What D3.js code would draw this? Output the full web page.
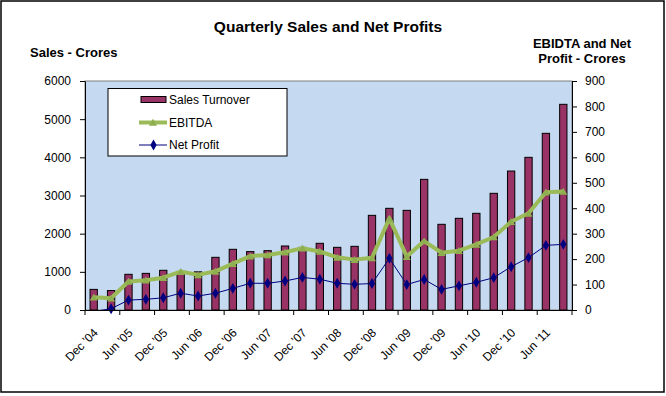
<!DOCTYPE html>
<html>
<head>
<meta charset="utf-8">
<script src="https://cdn.jsdelivr.net/npm/d3@7"></script>
<style>
  body { margin: 0; background: #fff; }
  text { font-family: "Liberation Sans", Arial, sans-serif; }
</style>
</head>
<body>
<div id="chart"></div>
<script>
// quarterly data
var quarters = ["Dec '04", "Mar '05", "Jun '05", "Sep '05", "Dec '05", "Mar '06", "Jun '06", "Sep '06",
  "Dec '06", "Mar '07", "Jun '07", "Sep '07", "Dec '07", "Mar '08", "Jun '08", "Sep '08",
  "Dec '08", "Mar '09", "Jun '09", "Sep '09", "Dec '09", "Mar '10", "Jun '10", "Sep '10",
  "Dec '10", "Mar '11", "Jun '11", "Sep '11"];

var salesTurnover = [540, 510, 935, 960, 1040, 980, 1000, 1380, 1590, 1530, 1555, 1677, 1640, 1747,
  1642, 1668, 2480, 2664, 2611, 3423, 2245, 2402, 2533, 3057, 3641, 4000, 4629, 5389];

var ebitda = [50, 46, 112, 117, 127, 151, 138, 152, 182, 212, 216, 227, 243, 230,
  207, 198, 205, 360, 210, 271, 225, 233, 258, 287, 347, 380, 463, 466];

var netProfit = [-6, 5, 39, 42, 48, 66, 55, 66, 85, 105, 105, 114, 128, 121,
  105, 101, 104, 203, 100, 120, 81, 95, 109, 127, 170, 206, 254, 258];

var leftTicks = [0, 1000, 2000, 3000, 4000, 5000, 6000];
var rightTicks = [0, 100, 200, 300, 400, 500, 600, 700, 800, 900];

var svgWidth = 666;
var svgHeight = 396;

var plot = { left: 85, right: 572, top: 81, bottom: 310 };

var svg = d3.select("#chart")
  .append("svg")
  .attr("width", svgWidth)
  .attr("height", svgHeight);

// outer frame
svg.append("rect")
  .attr("x", 1)
  .attr("y", 1)
  .attr("width", 663)
  .attr("height", 391)
  .attr("fill", "#fff")
  .attr("stroke", "#000")
  .attr("stroke-width", 1.5);

// scales
var x = d3.scaleBand()
  .domain(quarters)
  .range([plot.left, plot.right])
  .paddingInner(0.58)
  .paddingOuter(0.29);

var step = x.step();
var yLeft = d3.scaleLinear().domain([0, 6000]).range([plot.bottom, plot.top]);
var yRight = d3.scaleLinear().domain([0, 900]).range([plot.bottom, plot.top]);

var cx = i => x(quarters[i]) + x.bandwidth() / 2;

// plot area
svg.append("rect")
  .attr("x", plot.left)
  .attr("y", plot.top)
  .attr("width", plot.right - plot.left)
  .attr("height", plot.bottom - plot.top)
  .attr("fill", "#C5D9F1")
  .attr("stroke", "#808080")
  .attr("stroke-width", 1);

svg.append("clipPath")
  .attr("id", "plotClip")
  .append("rect")
  .attr("x", plot.left)
  .attr("y", plot.top)
  .attr("width", plot.right - plot.left)
  .attr("height", plot.bottom - plot.top);

// bars
svg.append("g")
  .selectAll("rect")
  .data(salesTurnover)
  .enter()
  .append("rect")
  .attr("x", (d, i) => x(quarters[i]))
  .attr("y", d => yLeft(d))
  .attr("width", x.bandwidth())
  .attr("height", d => yLeft(0) - yLeft(d))
  .attr("fill", "#993366")
  .attr("stroke", "#000")
  .attr("stroke-width", 1);

// EBITDA line
var rightLine = d3.line()
  .x((d, i) => cx(i))
  .y(d => yRight(d));

svg.append("path")
  .datum(ebitda)
  .attr("d", rightLine)
  .attr("fill", "none")
  .attr("stroke", "#9BBB59")
  .attr("stroke-width", 4)
  .attr("stroke-linejoin", "round");

svg.append("g")
  .selectAll("path")
  .data(ebitda)
  .enter()
  .append("path")
  .attr("d", d3.symbol().type(d3.symbolTriangle).size(28))
  .attr("transform", (d, i) => `translate(${cx(i)}, ${yRight(d) + 1})`)
  .attr("fill", "#8FAE4F");

// Net profit line
svg.append("path")
  .datum(netProfit)
  .attr("d", rightLine)
  .attr("clip-path", "url(#plotClip)")
  .attr("fill", "none")
  .attr("stroke", "#000080")
  .attr("stroke-width", 1);

// markers only for points inside the axis range
svg.append("g")
  .selectAll("path")
  .data(netProfit.map((v, i) => ({ v: v, i: i })).filter(d => d.v >= 0))
  .enter()
  .append("path")
  .attr("d", d3.symbol().type(d3.symbolDiamond).size(34))
  .attr("transform", d => `translate(${cx(d.i)}, ${yRight(d.v)})`)
  .attr("fill", "#000080");

// axes
var leftAxis = svg.append("g")
  .attr("transform", `translate(${plot.left}, 0)`)
  .call(d3.axisLeft(yLeft).tickValues(leftTicks).tickSize(5).tickSizeOuter(0).tickPadding(9).tickFormat(d3.format("d")));

var rightAxis = svg.append("g")
  .attr("transform", `translate(${plot.right}, 0)`)
  .call(d3.axisRight(yRight).tickValues(rightTicks).tickSize(5).tickSizeOuter(0).tickPadding(8).tickFormat(d3.format("d")));

var bottomAxis = svg.append("g")
  .attr("transform", `translate(0, ${plot.bottom})`)
  .call(d3.axisBottom(x).tickValues(quarters.filter((q, i) => i % 2 === 0)).tickSize(0).tickSizeOuter(0));

[leftAxis, rightAxis, bottomAxis].forEach(function(ax) {
  ax.selectAll("path.domain").attr("stroke", "#000");
  ax.selectAll("line").attr("stroke", "#000");
  ax.selectAll("text")
    .attr("fill", "#000")
    .style("font-size", "12px")
    .style("font-family", "'Liberation Sans', Arial, sans-serif");
});

// category ticks every two quarters (on band boundaries)
bottomAxis.selectAll(".tick line").remove();
bottomAxis.selectAll(".tick")
  .append("line")
  .attr("x1", -step / 2)
  .attr("x2", -step / 2)
  .attr("y1", 0)
  .attr("y2", 5)
  .attr("stroke", "#000");

bottomAxis.append("line")
  .attr("x1", plot.right)
  .attr("x2", plot.right)
  .attr("y1", 0)
  .attr("y2", 5)
  .attr("stroke", "#000");

bottomAxis.selectAll(".tick text")
  .attr("y", 0)
  .attr("dy", "0.35em")
  .attr("text-anchor", "end")
  .attr("transform", "translate(2, 20.5) rotate(-45)");

// titles
svg.append("text")
  .attr("x", 328)
  .attr("y", 32)
  .attr("text-anchor", "middle")
  .attr("font-size", "15.5px")
  .attr("font-weight", "bold")
  .text("Quarterly Sales and Net Profits");

svg.append("text")
  .attr("x", 30)
  .attr("y", 57)
  .attr("font-size", "13px")
  .attr("font-weight", "bold")
  .text("Sales - Crores");

svg.append("text")
  .attr("x", 582)
  .attr("y", 48)
  .attr("text-anchor", "middle")
  .attr("font-size", "13px")
  .attr("font-weight", "bold")
  .text("EBIDTA and Net");

svg.append("text")
  .attr("x", 582)
  .attr("y", 63)
  .attr("text-anchor", "middle")
  .attr("font-size", "13px")
  .attr("font-weight", "bold")
  .text("Profit - Crores");

// legend
var legend = svg.append("g");

legend.append("rect")
  .attr("x", 108)
  .attr("y", 88.5)
  .attr("width", 179)
  .attr("height", 67.5)
  .attr("fill", "#fff")
  .attr("stroke", "#000")
  .attr("stroke-width", 1);

legend.append("rect")
  .attr("x", 141)
  .attr("y", 96.5)
  .attr("width", 25)
  .attr("height", 6)
  .attr("fill", "#993366")
  .attr("stroke", "#000");

legend.append("line")
  .attr("x1", 139).attr("x2", 167)
  .attr("y1", 122.5).attr("y2", 122.5)
  .attr("stroke", "#9BBB59")
  .attr("stroke-width", 4);

legend.append("path")
  .attr("d", d3.symbol().type(d3.symbolTriangle).size(28))
  .attr("transform", "translate(153, 123.5)")
  .attr("fill", "#8FAE4F");

legend.append("line")
  .attr("x1", 139).attr("x2", 167)
  .attr("y1", 145).attr("y2", 145)
  .attr("stroke", "#000080")
  .attr("stroke-width", 1);

legend.append("path")
  .attr("d", d3.symbol().type(d3.symbolDiamond).size(34))
  .attr("transform", "translate(153.5, 145)")
  .attr("fill", "#000080");

var legendLabels = ["Sales Turnover", "EBITDA", "Net Profit"];
var legendY = [99.5, 122.5, 145];

legend.selectAll("text.lbl")
  .data(legendLabels)
  .enter()
  .append("text")
  .attr("class", "lbl")
  .attr("x", 169)
  .attr("y", (d, i) => legendY[i])
  .attr("dy", "0.35em")
  .attr("font-size", "12px")
  .text(d => d);
</script>
</body>
</html>
